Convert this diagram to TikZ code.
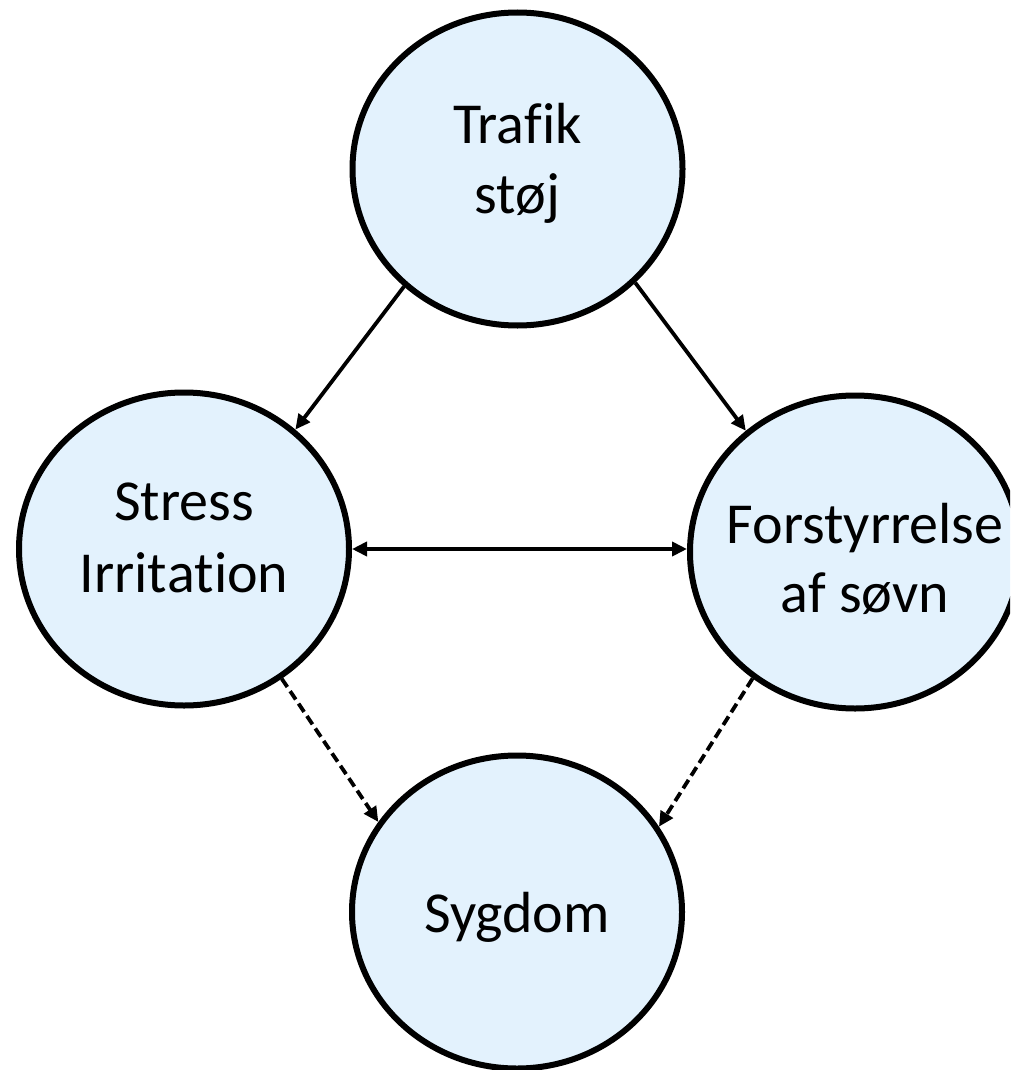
\documentclass[tikz,border=0pt]{standalone}
\usepackage{fontspec}
\setmainfont{Carlito}[Ligatures={NoCommon,NoContextual}, RawFeature={-liga}]
\usetikzlibrary{shapes.geometric,arrows.meta}
\definecolor{bubblefill}{RGB}{227,242,253}
\tikzset{
  bubble/.style={ellipse, draw=black, line width=6pt, fill=bubblefill,
    minimum width=330pt, minimum height=313pt, inner sep=0pt},
  lbl/.style={anchor=base, inner sep=0pt, font=\fontsize{58}{70}\selectfont},
  tip/.tip={Triangle[length=15pt,width=14pt]},
  link/.style={line width=3.8pt, -tip},
  dlink/.style={link, dash pattern=on 10pt off 5pt},
}
\begin{document}
\begin{tikzpicture}[x=1pt,y=-1pt]
\clip (0,0) rectangle (1010,1070);
\fill[white] (0,0) rectangle (1010,1070);
\node[bubble] (trafik) at (517.5,169) {};
\node[bubble] (stress) at (184,549) {};
\node[bubble] (forst) at (855,552) {};
\node[bubble] (sygdom) at (517,912) {};
\node[lbl] (t1) at (517.5,143) {Traf\kern0pt ik};
\node[lbl] (t2) at (517.5,213) {støj};
\node[lbl] (s1) at (184,520) {Stress};
\node[lbl] (s2) at (184,592) {Irrit\kern0pt at\kern0pt ion};
\node[lbl] (f1) at (865,543) {Forstyrrelse};
\node[lbl] (f2) at (865,612) {af søvn};
\node[lbl] (g1) at (517,932) {Sygdom};
\draw[link] (trafik.226.6) -- (stress.47);
\draw[link] (trafik.316.6) -- (forst.132);
\draw[link, tip-tip] (stress.east) -- (stress.east -| forst.west);
\draw[dlink] (stress.307) -- (sygdom.147.4);
\draw[dlink] (forst.231) -- (sygdom.31.9);
\end{tikzpicture}
\end{document}
